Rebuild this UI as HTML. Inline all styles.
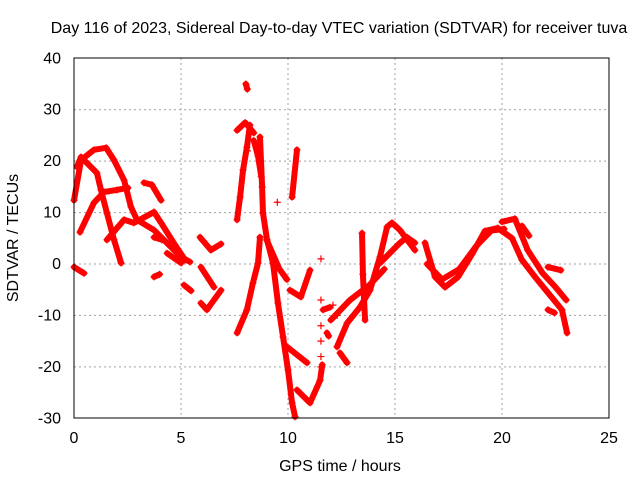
<!DOCTYPE html>
<html><head><meta charset="utf-8"><style>
body{margin:0;background:#fff;}
svg text{font-family:"Liberation Sans",sans-serif;font-size:16px;fill:#000;}
</style></head><body>
<svg id="chart" width="640" height="480" viewBox="0 0 640 480" xmlns="http://www.w3.org/2000/svg">
<rect width="640" height="480" fill="#fff"/>
<text x="339" y="33" text-anchor="middle">Day 116 of 2023, Sidereal Day-to-day VTEC variation (SDTVAR) for receiver tuva</text>
<g id="grid"></g>
<g id="series"></g>
<rect x="74" y="58" width="535" height="360" fill="none" stroke="#000" stroke-width="1"/>
<g id="ticks"></g>
<text x="340" y="471" text-anchor="middle">GPS time / hours</text>
<text x="18" y="238" text-anchor="middle" transform="rotate(-90 18 238)">SDTVAR / TECUs</text>
</svg>
<script>
const xTicks=[0,5,10,15,20,25];
const yTicks=[-30,-20,-10,0,10,20,30,40];
const tracks=[
 [[0,12.4],[0.33,20.2],[0.93,22.2],[1.5,22.6],[1.87,20.2],[2.34,16.3],[2.66,11.1],[2.94,8.6],[3.74,6.6],[4.53,3.3],[5.0,1.4],[5.42,0.4]],
 [[0.14,18.9],[0.33,20.8],[1.07,17.7],[1.26,14.4],[1.54,9.9],[1.87,4.7],[2.2,0.2]],
 [[0.28,6.2],[0.93,11.9],[1.4,14],[2.0,14.4],[2.52,14.8]],
 [[1.54,4.7],[2.34,8.6],[2.8,8],[3.74,10.1],[4.07,8],[4.72,3.7],[5.19,0.8]],
 [[3.74,5.2],[4.11,4.7]],
 [[3.27,15.8],[3.64,15.4],[4.07,12.4]],
 [[0,-0.6],[0.47,-1.8]],
 [[3.74,-2.5],[4.0,-2]],
 [[4.35,2.1],[5.0,0.2]],
 [[5.14,-4.1],[5.47,-5.2]],
 [[5.89,5.2],[6.4,2.7],[6.87,3.9]],
 [[5.93,-0.6],[6.54,-4.5]],
 [[5.93,-7.6],[6.21,-8.9],[6.87,-5.1]],
 [[7.62,-13.4],[8.08,-8.9],[8.36,-3.7],[8.6,0.2],[8.69,5.2]],
 [[7.62,8.6],[7.76,13],[7.9,18.3],[8.08,22.7],[8.22,27]],
 [[7.62,26],[8.0,27.5],[8.4,25.5]],
 [[8.03,35],[8.1,34]],
 [[8.4,24],[8.6,21],[8.75,17]],
 [[8.69,24.7],[8.79,15],[8.83,9.9],[9.02,4.7],[9.3,0.2],[9.53,-7.6],[9.77,-14.2],[10.0,-20.6],[10.19,-27],[10.33,-29.7]],
 [[9.0,4.7],[9.6,-1],[9.95,-3]],
 [[10.09,-5.1],[10.6,-6.4],[11.03,-1.2]],
 [[10.19,13],[10.42,22.2]],
 [[9.95,-16.1],[10.89,-19.2]],
 [[10.42,-24.5],[11.03,-27],[11.5,-22.6],[11.6,-19.6]],
 [[11.64,-8.9],[11.96,-8.4]],
 [[11.82,-13.4],[11.9,-14]],
 [[12.29,-16.1],[12.76,-11.5],[13.36,-8.4],[13.83,-5.1],[14.3,1.4],[14.63,7.2],[14.86,8],[15.23,6.6],[15.93,2.7]],
 [[14.3,0.2],[15.23,4.1],[15.56,5.2],[15.93,4.1]],
 [[13.46,6],[13.5,-2],[13.6,-10.9]],
 [[12.0,-10.9],[12.9,-7],[13.83,-4],[14.5,-1]],
 [[12.43,-17.3],[12.76,-19.2]],
 [[16.4,4.1],[16.87,-2.5],[17.34,-4.5],[17.95,-2.5],[18.6,1.9],[19.2,6.4],[19.8,7.0],[20.47,5],[20.93,0.8],[21.54,-2.5],[22.15,-5.6],[22.8,-8.9],[23.04,-13.4]],
 [[20.0,8.2],[20.6,8.8],[21.2,2.7],[21.9,-1.8],[22.5,-4.5],[23.0,-7]],
 [[16.5,0],[17.2,-3],[18.0,-1],[18.8,3.5],[19.5,6.5],[20.1,6.8]],
 [[20.93,7.4],[21.26,5.5]],
 [[22.15,-0.6],[22.75,-1.2]],
 [[22.15,-8.9],[22.45,-9.5]]
];
const scatterT=[11.54,11.54,11.54,11.54,11.54,11.54,12.1,12.3,9.5,8.1];
const scatterV=[1,-7,-12,-15,-18,-20,-8,-10,12,22];

const NS='http://www.w3.org/2000/svg';
const X=t=>74+t*535/25;
const Y=v=>264-v*360/70;
function mk(tag,attrs,parent){const e=document.createElementNS(NS,tag);for(const k in attrs)e.setAttribute(k,attrs[k]);parent.appendChild(e);return e;}
const grid=document.getElementById('grid'),ticks=document.getElementById('ticks'),series=document.getElementById('series');
xTicks.forEach(t=>{
 if(t>0&&t<25){const g=mk('line',{x1:X(t),x2:X(t),y1:58,y2:418,stroke:'#a0a0a0','stroke-dasharray':'2,3'},grid);
 
 }
 const l=mk('text',{x:X(t),y:443,'text-anchor':'middle'},ticks);l.textContent=t;
 
 
});
yTicks.forEach(v=>{
 if(v>-30&&v<40){const g=mk('line',{x1:74,x2:609,y1:Y(v),y2:Y(v),stroke:'#a0a0a0','stroke-dasharray':'2,3'},grid);
 
 }
 const l=mk('text',{x:61,y:Y(v)+5,'text-anchor':'end'},ticks);l.textContent=v;
 
 
});
function plus(x,y){const p=mk('path',{d:`M${x-3.5},${y}h7M${x},${y-3.5}v7`,stroke:'#f00','stroke-width':1.2},series);
 
 }
tracks.forEach(tr=>{
 const pl=mk('polyline',{points:tr.map(p=>X(p[0])+','+Y(p[1])).join(' '),fill:'none',stroke:'#f00','stroke-width':6,'stroke-linejoin':'round','stroke-linecap':'round'},series);
 
 
 tr.forEach(p=>plus(X(p[0]),Y(p[1])));
});
scatterT.forEach((t,i)=>plus(X(t),Y(scatterV[i])));
</script>
</body></html>
